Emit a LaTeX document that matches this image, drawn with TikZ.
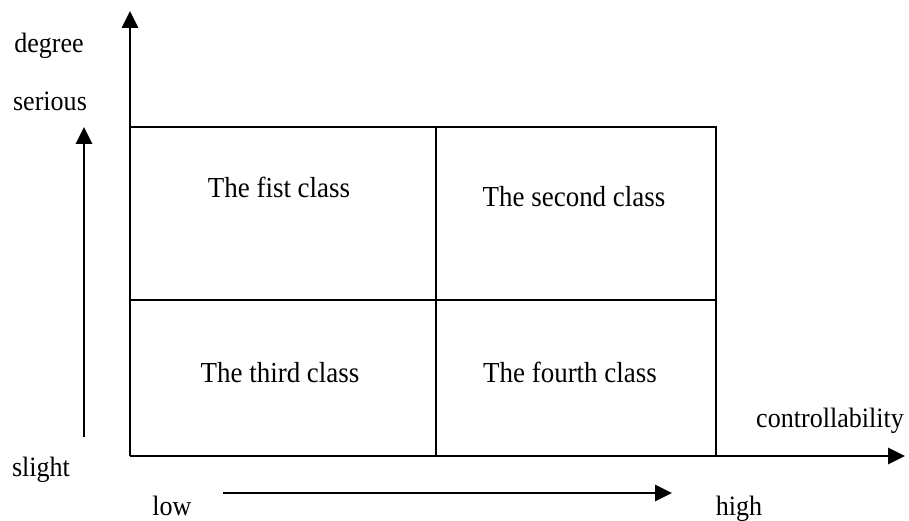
\documentclass[tikz,border=0pt]{standalone}
\usepackage{fontspec}
\setmainfont{Liberation Serif}
\usetikzlibrary{arrows.meta}
\newcommand{\cond}[1]{\scalebox{0.93}[1]{#1}}
\begin{document}
\begin{tikzpicture}[x=1pt,y=-1pt,
  axis/.style={line width=2.8pt,-{Triangle[length=17pt,width=16pt]}},
  grid/.style={line width=1.7pt},
  lbl/.style={font=\fontsize{28}{32}\selectfont,inner sep=0pt,anchor=base},
  cell/.style={font=\fontsize{29}{32}\selectfont,inner sep=0pt,anchor=base}]
\useasboundingbox[fill=white] (0,0) rectangle (909,521);
% axes
\coordinate (O) at (130,456);
\coordinate (ytip) at (130,11);
\coordinate (xtip) at (905,456);
\draw[axis] (O) -- (ytip);
\draw[axis] (O) -- (xtip);
% grid
\coordinate (tl) at (130,127);
\coordinate (tm) at (436,127);
\coordinate (tr) at (716,127);
\coordinate (ml) at (130,300);
\coordinate (mr) at (716,300);
\coordinate (bm) at (436,456);
\coordinate (br) at (716,456);
\draw[grid] (tl) -- (tr) -- (br);
\draw[grid] (ml) -- (mr);
\draw[grid] (tm) -- (bm);
% side arrows
\coordinate (s0) at (84,437);
\coordinate (s1) at (84,127);
\draw[axis] (s0) -- (s1);
\coordinate (b0) at (223,493);
\coordinate (b1) at (672,493);
\draw[axis] (b0) -- (b1);
% labels
\node[lbl] (deg) at (49,53) {\cond{degree}};
\node[lbl] (ser) at (50,111) {\cond{serious}};
\node[lbl] (sli) at (41,476) {\cond{slight}};
\node[lbl] (low) at (172,515) {\cond{low}};
\node[lbl] (hig) at (739,515) {\cond{high}};
\node[lbl] (con) at (830,427) {\cond{controllability}};
% cells
\node[cell] (c1) at (279,198) {\cond{The fist class}};
\node[cell] (c2) at (574,207) {\cond{The second class}};
\node[cell] (c3) at (280,382) {\cond{The third class}};
\node[cell] (c4) at (570,382) {\cond{The fourth class}};
\end{tikzpicture}
\end{document}
